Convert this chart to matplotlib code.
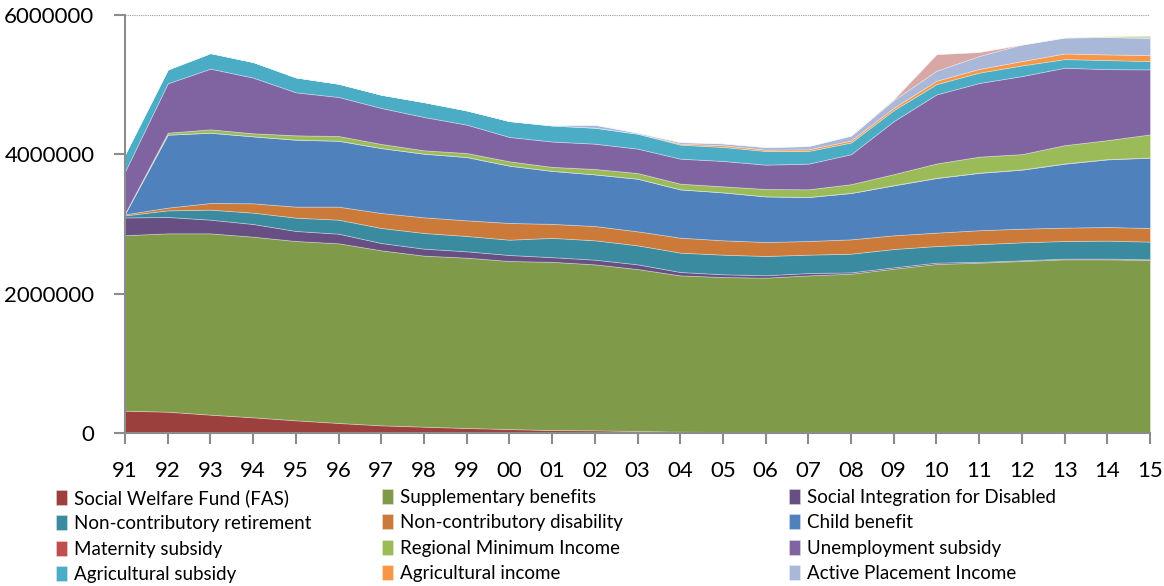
import numpy as np
import matplotlib.pyplot as plt

plt.rcParams['font.family'] = ['Lato', 'DejaVu Sans']

years = ['91', '92', '93', '94', '95', '96', '97', '98', '99', '00', '01', '02',
         '03', '04', '05', '06', '07', '08', '09', '10', '11', '12', '13', '14', '15']

# valores (personas)
fas = [320000, 306000, 263000, 225000, 182000, 144000, 110000, 91000, 72000, 57000, 42000, 38000,
       29000, 19000, 15000, 10000, 8000, 5000, 3000, 2000, 1000, 1000, 1000, 1000, 1000]
supplementary = [2520000, 2560000, 2603000, 2593000, 2574000, 2579000, 2512000, 2455000, 2445000,
                 2412000, 2415000, 2383000, 2325000, 2244000, 2224000, 2220000, 2255000, 2282000,
                 2356000, 2424000, 2444000, 2468000, 2492000, 2492000, 2482000]
social_integration = [254000, 235000, 196000, 182000, 144000, 138000, 105000, 100000, 91000, 86000,
                      67000, 67000, 67000, 48000, 39000, 34000, 33000, 19000, 19000, 19000, 12000,
                      10000, 10000, 10000, 10000]
nc_retirement = [30000, 95000, 144000, 163000, 191000, 201000, 216000, 225000, 220000, 220000,
                 277000, 278000, 273000, 278000, 282000, 277000, 264000, 268000, 263000, 239000,
                 253000, 258000, 253000, 258000, 254000]
nc_disability = [15000, 39000, 96000, 134000, 158000, 187000, 215000, 225000, 225000, 240000,
                 201000, 205000, 201000, 215000, 206000, 201000, 196000, 206000, 197000, 192000,
                 201000, 196000, 192000, 196000, 196000]
child_benefit = [10000, 1048000, 1009000, 962000, 962000, 947000, 933000, 914000, 909000, 823000,
                 761000, 742000, 756000, 694000, 689000, 655000, 632000, 665000, 717000, 784000,
                 823000, 847000, 918000, 971000, 1009000]
maternity = [0, 0, 0, 0, 0, 0, 0, 0, 0, 0, 0, 0,
             0, 0, 0, 0, 0, 2000, 3000, 3000, 3000, 3000, 3000, 3000, 3000]
regional_income = [5000, 28000, 48000, 43000, 62000, 67000, 58000, 48000, 57000, 62000, 57000,
                   77000, 81000, 81000, 86000, 106000, 110000, 125000, 158000, 206000, 230000,
                   220000, 263000, 273000, 331000]
unemployment = [600000, 708000, 871000, 799000, 617000, 560000, 516000, 478000, 407000, 349000,
                364000, 363000, 350000, 359000, 364000, 349000, 368000, 430000, 761000, 991000,
                1057000, 1120000, 1111000, 1019000, 933000]
agri_subsidy = [250000, 201000, 225000, 225000, 216000, 192000, 192000, 215000, 206000, 230000,
                230000, 230000, 215000, 201000, 201000, 196000, 182000, 168000, 158000, 148000,
                149000, 153000, 124000, 130000, 119000]
agri_income = [0, 0, 0, 0, 0, 0, 0, 0, 0, 0, 0, 0,
               0, 14000, 24000, 19000, 24000, 28000, 34000, 48000, 53000, 62000, 81000, 81000, 86000]
active_placement = [0, 0, 0, 0, 0, 0, 0, 0, 0, 0, 5000, 43000,
                    15000, 24000, 29000, 38000, 48000, 72000, 110000, 144000, 186000, 239000,
                    230000, 251000, 249000]
other_a = [0, 0, 0, 0, 0, 0, 0, 0, 0, 0, 0, 0,
           0, 0, 0, 0, 0, 0, 15000, 239000, 58000, 0, 0, 0, 0]
other_b = [0, 0, 0, 0, 0, 0, 0, 0, 0, 0, 0, 0,
           0, 0, 0, 0, 0, 0, 0, 0, 0, 0, 0, 10000, 30000]

labels = ['Social Welfare Fund (FAS)', 'Supplementary benefits', 'Social Integration for Disabled',
          'Non-contributory retirement', 'Non-contributory disability', 'Child benefit',
          'Maternity subsidy', 'Regional Minimum Income', 'Unemployment subsidy',
          'Agricultural subsidy', 'Agricultural income', 'Active Placement Income']
colors = ['#9C3F3D', '#7F9A48', '#674E83', '#3A8BA0', '#CB7A39', '#4F81BD',
          '#C0504D', '#9BBB59', '#8064A2', '#4BACC6', '#F79646', '#A9B8D8',
          '#D8A8A7', '#C4D79E']

series = [fas, supplementary, social_integration, nc_retirement, nc_disability, child_benefit,
          maternity, regional_income, unemployment, agri_subsidy, agri_income, active_placement,
          other_a, other_b]

fig = plt.figure(figsize=(11.64, 5.86), dpi=100)
ax = fig.add_axes([125 / 1164, 1 - 433 / 586, 1025 / 1164, 418 / 586])

x = np.arange(len(years))
polys = ax.stackplot(x, np.array(series, dtype=float), colors=colors,
                     edgecolor=(1, 1, 1, 0.35), linewidth=0.6)

ax.set_xlim(0, len(years) - 1)
ax.set_ylim(0, 6000000)
ax.set_xticks(x)
ax.set_xticklabels(years)
ax.set_yticks([0, 2000000, 4000000, 6000000])
ax.set_yticklabels(['0', '2000000', '4000000', '6000000'])

# solo la linea de arriba punteada
ax.axhline(6000000, color='#999999', linestyle=(0, (1, 1)), linewidth=0.8)

for s in ['top', 'right']:
    ax.spines[s].set_visible(False)
for s in ['left', 'bottom']:
    ax.spines[s].set_color('#8c8c8c')
    ax.spines[s].set_linewidth(1.5)
ax.tick_params(axis='both', direction='out', length=8, width=1.5, color='#8c8c8c',
               labelsize=16, pad=12)
ax.tick_params(axis='y', pad=14)

# leyenda en tres columnas colocadas a mano
col_x = [56, 382, 789]
for c in range(3):
    idx = [c, c + 3, c + 6, c + 9]
    fig.legend([polys[i] for i in idx], [labels[i] for i in idx],
               loc='upper left', bbox_to_anchor=(col_x[c] / 1164, 1 - 489 / 586),
               frameon=False, fontsize=13.5, handlelength=0.6, handleheight=0.85,
               handletextpad=0.35, labelspacing=0.45, borderpad=0, borderaxespad=0)

fig.savefig('out.png', dpi=100)
